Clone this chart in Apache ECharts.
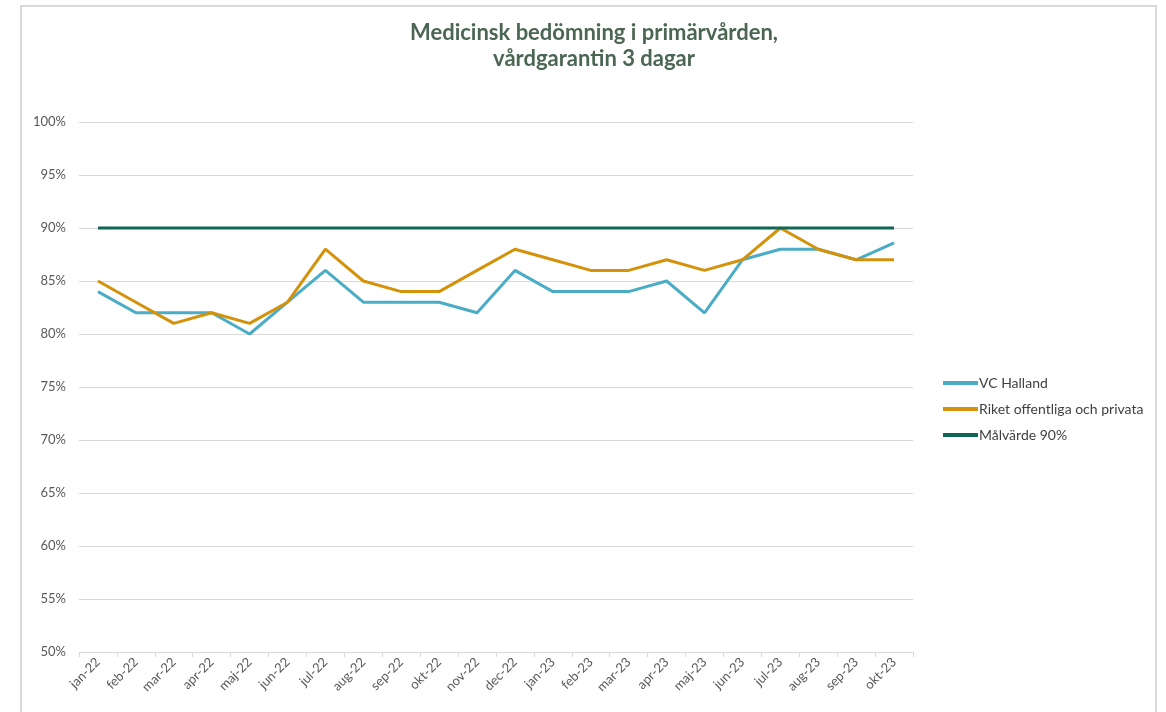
<!DOCTYPE html>
<html>
<head>
<meta charset="utf-8">
<script src="https://cdn.jsdelivr.net/npm/echarts@6/dist/echarts.min.js"></script>
<style>
  html, body { margin: 0; padding: 0; background: #fff; }
  #chart { width: 1166px; height: 712px; }
</style>
</head>
<body>
<div id="chart"></div>
<script>
const months = ['jan-22', 'feb-22', 'mar-22', 'apr-22', 'maj-22', 'jun-22', 'jul-22', 'aug-22', 'sep-22', 'okt-22', 'nov-22', 'dec-22',
  'jan-23', 'feb-23', 'mar-23', 'apr-23', 'maj-23', 'jun-23', 'jul-23', 'aug-23', 'sep-23', 'okt-23']
// procent
const vcHalland = [84, 82, 82, 82, 80, 83, 86, 83, 83, 83, 82, 86, 84, 84, 84, 85, 82, 87, 88, 88, 87, 88.6]
const riket = [85, 83, 81, 82, 81, 83, 88, 85, 84, 84, 86, 88, 87, 86, 86, 87, 86, 87, 90, 88, 87, 87]
const malvarde = [90, 90, 90, 90, 90, 90, 90, 90, 90, 90, 90, 90, 90, 90, 90, 90, 90, 90, 90, 90, 90, 90]

const font = 'Lato, "Open Sans", sans-serif'
const chart = echarts.init(document.getElementById('chart'))

function line(name, data, color) {
  return {
    name: name,
    type: 'line',
    data: data,
    symbol: 'none',
    animation: false,
    lineStyle: { color: color, width: 3 },
    itemStyle: { color: color }
  }
}

chart.setOption({
  backgroundColor: '#fff',
  title: {
    text: 'Medicinsk bedömning i primärvården,\nvårdgarantin 3 dagar',
    left: 589,
    textAlign: 'center',
    top: 15,
    textStyle: {
      fontFamily: font,
      fontSize: 22,
      fontWeight: 'bold',
      color: '#4b6653',
      lineHeight: 26
    }
  },
  // ram runt diagrammet
  graphic: [{
    type: 'polyline',
    shape: { points: [[21, 712], [21, 6], [1156, 6], [1156, 712]] },
    style: { stroke: '#d9d9d9', lineWidth: 2, fill: null }
  }],
  legend: {
    orient: 'vertical',
    left: 938,
    top: 371,
    itemGap: 12,
    itemWidth: 35,
    itemHeight: 16,
    icon: 'path://M0,6L35,6L35,10L0,10Z',
    textStyle: { fontFamily: font, fontSize: 14, color: '#404040', padding: [0, 0, 0, -4] },
    data: ['VC Halland', 'Riket offentliga och privata', 'Målvärde 90%']
  },
  grid: { left: 79, right: 253, top: 122, bottom: 60 },
  xAxis: {
    type: 'category',
    data: months,
    boundaryGap: true,
    axisLine: { lineStyle: { color: '#d9d9d9', width: 1 } },
    axisTick: { show: true, length: 5, lineStyle: { color: '#d9d9d9' } },
    axisLabel: {
      rotate: 45,
      margin: 8,
      fontFamily: font,
      fontSize: 13,
      color: '#595959'
    }
  },
  yAxis: {
    type: 'value',
    min: 50,
    max: 100,
    interval: 5,
    axisLine: { show: false },
    axisTick: { show: false },
    splitLine: { lineStyle: { color: '#d9d9d9', width: 1 } },
    axisLabel: {
      formatter: '{value}%',
      margin: 13,
      fontFamily: font,
      fontSize: 13,
      color: '#595959'
    }
  },
  series: [
    line('VC Halland', vcHalland, '#4bacc6'),
    line('Riket offentliga och privata', riket, '#d4920b'),
    line('Målvärde 90%', malvarde, '#0e6655')
  ]
})
</script>
</body>
</html>
